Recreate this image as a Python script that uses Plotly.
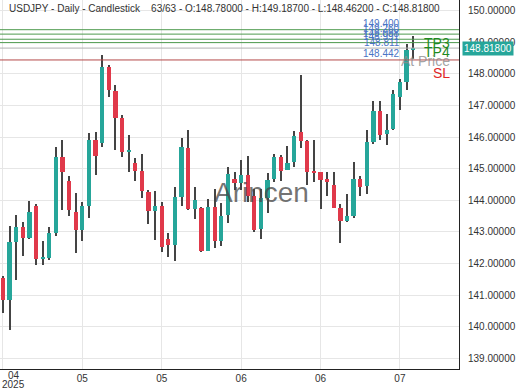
import plotly.graph_objects as go

# ---- data ----
opens = [141.54, 140.86, 142.68, 143.15, 142.82, 143.82, 142.15, 142.17, 142.96, 145.38,
         144.61, 143.64, 143.07, 143.82, 145.92, 145.82, 148.21, 147.46, 146.59, 145.55,
         145.19, 144.94, 144.27, 143.67, 143.82, 142.77, 142.57, 144.09, 145.67, 143.72,
         143.75, 142.40, 143.78, 142.70, 143.52, 144.66, 144.54, 144.80, 144.14, 143.09,
         144.06, 144.66, 145.36, 144.96, 145.22, 146.17, 145.88, 144.91, 144.88, 144.63,
         144.48, 143.77, 143.33, 143.49, 144.69, 144.45, 145.83, 146.82, 146.09, 146.25,
         147.27, 147.74, 148.78]
highs = [141.60, 143.19, 143.54, 143.30, 143.99, 143.89, 142.72, 143.15, 145.69, 145.90,
         144.77, 144.22, 143.96, 146.13, 146.17, 148.61, 148.27, 147.64, 146.69, 146.06,
         145.33, 145.48, 144.33, 144.31, 143.96, 142.98, 144.41, 145.98, 146.24, 144.43,
         143.78, 144.04, 144.35, 143.93, 145.06, 144.90, 145.27, 145.40, 144.35, 144.35,
         144.85, 145.48, 145.43, 145.72, 146.19, 147.98, 145.90, 145.92, 144.90, 144.90,
         144.90, 143.89, 144.20, 145.20, 144.77, 146.22, 147.14, 147.14, 146.72, 147.50,
         147.85, 148.96, 149.187]
lows = [140.44, 139.88, 141.49, 142.25, 142.77, 141.96, 141.96, 142.12, 142.86, 143.70,
        143.51, 142.33, 142.70, 143.43, 144.80, 145.69, 147.27, 145.59, 145.38, 144.90,
        144.62, 144.07, 143.26, 142.75, 142.35, 142.21, 142.07, 143.82, 143.70, 143.40,
        142.35, 142.38, 142.49, 142.54, 143.28, 144.33, 144.33, 143.96, 143.01, 142.77,
        143.59, 144.59, 144.62, 144.95, 145.06, 145.66, 144.48, 144.59, 143.72, 144.15,
        143.75, 142.65, 143.30, 143.43, 144.15, 144.20, 145.78, 145.92, 145.75, 146.22,
        146.85, 147.50, 148.462]
closes = [140.86, 142.67, 143.15, 142.82, 143.62, 142.15, 142.20, 142.96, 145.38, 144.88,
          143.70, 143.07, 143.82, 145.92, 145.40, 148.21, 147.48, 146.61, 145.54, 145.60,
          144.94, 144.31, 143.67, 143.82, 142.51, 142.59, 144.09, 145.69, 143.74, 144.01,
          142.38, 143.80, 142.70, 143.51, 144.82, 144.54, 144.80, 144.14, 143.07, 144.06,
          144.64, 145.36, 144.94, 145.17, 146.03, 145.88, 144.88, 144.88, 144.64, 144.61,
          143.77, 143.33, 143.49, 144.69, 144.43, 145.83, 146.83, 146.06, 146.24, 147.37,
          147.74, 148.76, 148.818]

tick_index = [12, 24, 36, 48, 60]
tick_text = ["05", "05", "06", "06", "07"]
first_tick_label = "04"
first_tick_year = "2025"

tp_levels = [149.400, 149.260, 149.098, 148.991]
tp_price_labels = ["149.400", "149.260", "149.098", "148.991"]
at_price = 148.818
sl_level = 148.442
header = ("USDJPY - Daily - Candlestick\u00a0\u00a0\u00a0\u00a063/63 - O:148.78000 - "
          "H:149.18700 - L:148.46200 - C:148.81800")

UP = "#26a69a"
DOWN = "#e0394a"

idx = list(range(len(opens)))
body_base = [min(o, c) for o, c in zip(opens, closes)]
body_h = [max(abs(c - o), 0.05) for o, c in zip(opens, closes)]
body_col = [UP if c >= o else DOWN for o, c in zip(opens, closes)]
wick_h = [h - l for h, l in zip(highs, lows)]

fig = go.Figure()
fig.add_trace(go.Bar(x=idx, y=wick_h, base=lows, width=0.16,
                     marker=dict(color="#444444", line=dict(width=0)),
                     hoverinfo="skip", showlegend=False))
fig.add_trace(go.Bar(x=idx, y=body_h, base=body_base, width=0.64,
                     marker=dict(color=body_col, line=dict(width=0)),
                     hoverinfo="skip", showlegend=False))

shapes = []
for lv in tp_levels:
    shapes.append(dict(type="line", xref="paper", x0=0, x1=1, yref="y", y0=lv, y1=lv,
                       line=dict(color="#4e9a4e", width=1)))
shapes.append(dict(type="line", xref="paper", x0=0, x1=1, yref="y", y0=at_price, y1=at_price,
                   line=dict(color="#b0b0b0", width=1)))
shapes.append(dict(type="line", xref="paper", x0=0, x1=1, yref="y", y0=sl_level, y1=sl_level,
                   line=dict(color="#b44a4a", width=1)))

ann = []
# header
ann.append(dict(text=header, xref="paper", yref="paper", x=0, y=1, xanchor="left",
                yanchor="top", xshift=7, yshift=-1, showarrow=False,
                font=dict(family="Liberation Sans, Arial", size=10, color="#333")))
# watermark
ann.append(dict(text="Arincen", xref="paper", yref="paper", x=0.569, y=0.477,
                showarrow=False,
                font=dict(family="Liberation Sans, Arial", size=28, color="rgba(70,70,70,0.75)")))
# price labels above lines
for lv, t in zip(tp_levels + [at_price, sl_level],
                 tp_price_labels + ["148.811", "148.442"]):
    ann.append(dict(text=t, xref="paper", x=0.876, yref="y", y=lv, yshift=6,
                    showarrow=False,
                    font=dict(family="Liberation Sans, Arial", size=10, color="#4a73c5")))
# level names
for name, lv, col in [("TP3", tp_levels[0], "#1f8a1f"), ("TP4", tp_levels[2], "#1f8a1f"),
                      ("At Price", at_price, "rgba(140,140,140,0.8)"), ("SL", sl_level, "#e02525")]:
    ann.append(dict(text=name, xref="paper", x=0.985, xanchor="right", yref="y", y=lv,
                    yshift=-13, showarrow=False,
                    font=dict(family="Liberation Sans, Arial", size=14, color=col)))
# last price tag
ann.append(dict(text="148.81800", xref="paper", x=1, xanchor="left", xshift=3,
                yref="y", y=closes[-1], showarrow=False, bgcolor=UP, borderpad=1,
                font=dict(family="Liberation Sans, Arial", size=10, color="white")))
# first x tick label (shifted right like the reference)
ann.append(dict(text=first_tick_label, xref="x", x=0, xanchor="center", xshift=11,
                yref="paper", y=0, yanchor="middle", yshift=-6, showarrow=False,
                font=dict(family="Liberation Sans, Arial", size=10, color="#333")))
ann.append(dict(text=first_tick_year, xref="x", x=0, xanchor="center", xshift=11,
                yref="paper", y=0, yanchor="middle", yshift=-15, showarrow=False,
                font=dict(family="Liberation Sans, Arial", size=10, color="#333")))

fig.update_layout(
    width=520, height=390,
    margin=dict(l=0, r=61, t=0, b=21),
    paper_bgcolor="white", plot_bgcolor="white",
    barmode="overlay", bargap=0,
    showlegend=False,
    shapes=shapes, annotations=ann,
    font=dict(family="Liberation Sans, Arial", size=10, color="#333"),
    xaxis=dict(range=[-0.45, 68.93], tickmode="array", tickvals=[0] + tick_index,
               ticktext=[""] + tick_text, showgrid=True, gridcolor="#e6e6e6",
               showline=True, linecolor="#222", linewidth=1, ticks="", zeroline=False,
               tickfont=dict(size=10, color="#333"), fixedrange=True),
    yaxis=dict(side="right", range=[138.66, 150.34], dtick=1, tick0=139,
               tickformat=".5f", showgrid=True, gridcolor="#e6e6e6",
               showline=True, linecolor="#222", linewidth=1, ticks="",
               ticklabelstandoff=6, zeroline=False,
               tickfont=dict(size=10, color="#333"), fixedrange=True),
)

fig.write_html("out.html", config={"displayModeBar": False},
               post_script="document.body.style.margin='0';document.body.style.padding='0';")
